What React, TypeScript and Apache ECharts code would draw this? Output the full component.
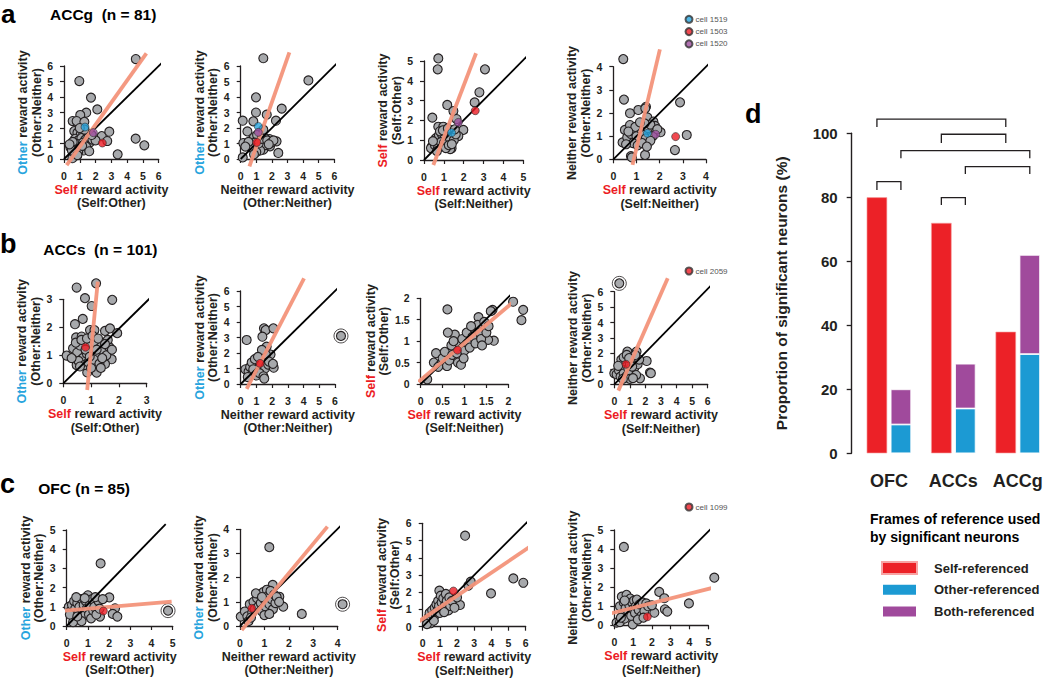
import React, { useEffect, useRef } from "react";
import * as echarts from "echarts";

const FONT = "'Liberation Sans', Arial, Helvetica, sans-serif";
const INK = "#231f20";
const GRAY = "#a7a9ac";
const FIT = "#f3937a";
const RED = "#ec1c24";
const BLUE = "#27a4dd";
const PURPLE = "#9c4d9e";
const BAR_RED = "#ec2127";
const BAR_BLUE = "#1c9ad3";
const BAR_PURPLE = "#a04a9c";

// ---------- scatter data (x, y) ----------
const a1Points = [
  [4.55, 6.45], [0.97, 5.03], [1.71, 3.96], [2.11, 3.2], [1.41, 2.99], [1.03, 2.84], [0.55, 2.45], [0.8, 2.45], [1.29, 2.4],
  [0.65, 1.8], [2.39, 1.48], [2.87, 1.76], [2.74, 1.16], [1.65, 1.08], [3.4, 0.3], [4.54, 1.31], [5.09, 0.88], [0.53, 0.05],
  [0.85, 1.7], [1.05, 1.55], [1.2, 1.75], [1.5, 1.6], [0.7, 1.3], [0.9, 1.2], [1.1, 1.35], [1.35, 1.25], [1.55, 1.4],
  [0.45, 0.8], [0.6, 0.9], [0.75, 1.0], [0.95, 0.95], [1.2, 1.05], [0.4, 0.75], [0.55, 1.1], [0.8, 0.6], [1.0, 0.7],
  [1.25, 0.55], [1.4, 0.8], [0.65, 0.4], [0.9, 0.45], [1.15, 0.85], [1.6, 0.5], [0.5, 0.55], [1.8, 1.25], [2.0, 1.2],
  [1.3, 1.9], [1.0, 2.0], [0.35, 0.95], [1.75, 1.55], [0.85, 0.25],
];
const a2Points = [
  [1.45, 6.5], [4.34, 5.07], [0.98, 3.98], [0.98, 3.0], [2.63, 3.25], [1.67, 2.86], [0.13, 2.47], [0.81, 2.43], [2.26, 2.47],
  [0.43, 1.78], [0.17, 1.03], [0.13, 0.1], [1.84, 1.29], [2.3, 1.14], [1.88, 0.82], [2.41, 0.39], [1.45, 0.6],
  [0.7, 1.2], [0.85, 1.4], [0.95, 0.85], [1.1, 0.75], [1.2, 1.25], [1.3, 0.95], [1.4, 1.5], [1.5, 1.1], [1.6, 0.9],
  [0.6, 0.9], [0.75, 0.7], [1.05, 1.55], [1.25, 0.55], [1.55, 1.35], [0.9, 1.05], [1.15, 1.0], [1.35, 1.3], [1.7, 1.2],
  [1.95, 1.05], [2.1, 1.2], [0.5, 1.1], [1.0, 0.45], [1.8, 0.95], [1.45, 1.9], [0.3, 0.8], [0.85, 0.3],
];
const a3Points = [
  [0.72, 5.13], [0.69, 4.58], [3.07, 4.58], [2.79, 3.42], [2.55, 2.91], [1.17, 2.78], [1.48, 2.47], [0.42, 2.14], [1.64, 2.07],
  [1.98, 1.52], [1.73, 1.21], [0.72, 1.68], [0.97, 1.68], [0.39, 0.67], [0.35, 0.6], [1.39, 0.59], [1.32, 0.55],
  [0.6, 1.1], [0.75, 1.25], [0.9, 1.3], [1.05, 1.2], [1.2, 1.35], [0.55, 0.75], [0.7, 0.6], [0.85, 0.9], [1.0, 0.85],
  [1.15, 0.95], [1.3, 1.1], [1.5, 1.0], [0.45, 0.95], [0.8, 1.45], [1.1, 0.6], [1.25, 0.75], [0.95, 1.5], [1.4, 0.8],
  [1.6, 1.3], [0.65, 0.45], [1.2, 1.6], [1.55, 1.55],
];
const a4Points = [
  [0.43, 4.33], [0.46, 2.58], [2.88, 2.46], [3.17, 1.05], [2.66, 0.4], [2.04, 1.17], [0.72, 1.99], [1.08, 2.13], [1.41, 2.27],
  [1.38, 2.2], [1.47, 1.81], [1.37, 0.19], [0.76, 0.14], [0.8, 0.08], [0.4, 0.73], [0.5, 1.27], [0.72, 1.48], [1.73, 1.63],
  [1.8, 1.44], [0.6, 0.95], [0.75, 1.1], [0.9, 1.2], [1.0, 1.0], [1.1, 0.85], [1.2, 1.3], [1.3, 1.05], [1.4, 0.9],
  [1.5, 1.35], [1.6, 1.5], [0.85, 0.7], [1.05, 0.6], [1.25, 0.7], [1.35, 1.55], [0.95, 1.4], [0.65, 1.2], [1.15, 1.6],
  [1.7, 1.0], [1.6, 0.8], [0.55, 0.65], [1.9, 1.3], [1.45, 0.55],
];
const b1Points = [
  [1.18, 3.57], [0.48, 3.42], [0.78, 3.04], [1.76, 2.98], [1.02, 2.76], [0.7, 2.3], [0.42, 2.11], [0.96, 1.9], [1.12, 1.9],
  [1.5, 1.87], [1.68, 1.96], [1.94, 1.79], [0.12, 0.99], [0.46, 1.64], [0.66, 1.67], [1.2, 0.38], [0.86, 0.39], [1.74, 0.86],
  [1.5, 0.69], [0.48, 0.65], [0.35, 1.25], [0.5, 1.1], [0.6, 1.35], [0.7, 0.9], [0.85, 1.05], [0.95, 1.3], [1.05, 1.15],
  [1.15, 1.45], [1.25, 1.0], [1.35, 1.3], [1.45, 1.15], [1.55, 1.0], [1.65, 1.3], [0.55, 0.8], [0.75, 0.65], [0.9, 0.75],
  [1.0, 0.55], [1.1, 0.85], [1.3, 0.7], [1.4, 0.9], [0.45, 1.45], [0.65, 1.55], [0.85, 1.6], [1.05, 1.7], [1.25, 1.6],
  [1.6, 1.55], [1.75, 1.2], [0.3, 0.9], [1.2, 1.2], [0.8, 1.2], [0.6, 0.6], [1.5, 1.4], [1.35, 0.55], [0.95, 0.95],
];
const b2Points = [
  [1.48, 3.59], [1.59, 3.48], [1.38, 3.05], [0.38, 2.84], [2.08, 3.59], [1.65, 2.41],
  [0.3, 0.95], [0.5, 0.8], [0.6, 1.1], [0.75, 0.7], [0.85, 1.05], [0.95, 1.25], [1.05, 0.9], [1.15, 1.5], [1.3, 1.05],
  [1.4, 1.3], [1.55, 1.0], [1.65, 1.6], [1.75, 1.25], [1.9, 1.9], [2.1, 1.05], [0.7, 1.4], [0.9, 1.6], [1.0, 0.55],
  [1.2, 0.7], [1.45, 0.5], [1.6, 1.9], [1.35, 2.2], [0.45, 0.45], [1.8, 1.45], [1.1, 1.75], [2.05, 1.3], [1.5, 0.35],
  [0.8, 0.95],
];
const b3Points = [
  [0.61, 1.74], [2.11, 1.92], [2.34, 1.73], [2.3, 1.49], [1.64, 1.73], [0.15, 0.11], [1.67, 1.01], [1.54, 1.03], [1.32, 1.56],
  [1.43, 1.3], [0.3, 0.5], [0.35, 0.72], [0.45, 0.45], [0.5, 0.6], [0.55, 0.75], [0.6, 0.42], [0.65, 0.55], [0.7, 0.9],
  [0.72, 0.68], [0.78, 1.15], [0.85, 0.5], [0.88, 0.95], [0.92, 0.45], [0.95, 1.05], [1.0, 0.78], [1.05, 1.2], [1.08, 0.95],
  [1.12, 0.85], [1.18, 1.1], [1.22, 1.3], [1.25, 0.95], [1.3, 1.38], [1.35, 1.2], [1.38, 1.05], [1.45, 1.45], [1.5, 1.2],
  [1.55, 1.35], [1.6, 1.7], [0.62, 1.2], [0.75, 1.0], [0.4, 0.4], [0.98, 0.6], [1.15, 1.35], [0.82, 0.72], [1.4, 0.9],
];
const b4Points = [
  [0.84, 2.12], [1.28, 1.79], [1.43, 2.12], [2.08, 1.51], [2.29, 0.76], [2.35, 0.72], [1.65, 0.39], [0.0, 0.71], [0.15, 0.65],
  [0.3, 0.9], [0.4, 0.5], [0.5, 1.1], [0.6, 0.7], [0.7, 1.5], [0.8, 0.55], [0.9, 1.0], [1.0, 1.3], [1.1, 0.8], [1.2, 1.6],
  [1.3, 1.1], [1.4, 0.6], [1.5, 1.3], [0.45, 1.6], [0.6, 1.75], [0.8, 1.9], [1.0, 0.35], [1.2, 0.4], [0.25, 1.2],
  [1.6, 1.6], [1.35, 1.9], [0.95, 1.7], [1.15, 1.15], [0.55, 0.35],
];
const c1Points = [
  [1.6, 3.26], [2.01, 1.49], [2.28, 0.92], [2.17, 0.63], [2.39, 0.49], [1.57, 0.49],
  [0.1, 1.0], [0.2, 0.8], [0.25, 1.1], [0.3, 0.5], [0.35, 1.3], [0.4, 0.9], [0.45, 0.35], [0.5, 1.2], [0.55, 0.7],
  [0.6, 1.0], [0.65, 0.4], [0.7, 1.4], [0.75, 0.8], [0.8, 1.1], [0.85, 0.55], [0.9, 1.3], [0.95, 0.9], [1.0, 1.6],
  [1.05, 0.6], [1.1, 1.1], [1.15, 0.4], [1.2, 1.4], [1.25, 0.8], [1.3, 1.0], [1.4, 0.6], [1.5, 1.3], [1.55, 0.9],
  [0.3, 0.2], [0.15, 0.6], [0.7, 0.25], [1.35, 1.5], [0.45, 1.5], [1.7, 1.4], [0.5, 0.5], [0.85, 1.45],
];
const c2Points = [
  [1.2, 3.26], [2.53, 0.5], [1.77, 0.8], [1.61, 1.21], [1.34, 1.7], [0.03, 0.39],
  [0.2, 0.6], [0.3, 0.4], [0.4, 0.9], [0.5, 0.55], [0.55, 1.0], [0.6, 0.7], [0.7, 1.15], [0.75, 0.8], [0.8, 1.3],
  [0.85, 0.95], [0.9, 0.6], [0.95, 1.4], [1.0, 1.1], [1.05, 0.8], [1.1, 1.5], [1.15, 1.25], [1.2, 0.9], [1.25, 1.45],
  [1.3, 1.1], [1.35, 0.7], [1.4, 1.3], [1.45, 0.95], [1.5, 1.2], [0.65, 1.35], [0.35, 0.2], [1.0, 0.45], [1.2, 0.5],
  [0.45, 0.35], [1.6, 1.0], [0.9, 1.2],
];
const c3Points = [
  [2.47, 5.28], [5.28, 2.8], [5.86, 2.55], [3.98, 1.93], [2.66, 2.38], [2.8, 2.61], [2.17, 1.26], [0.97, 2.09],
  [0.3, 0.3], [0.35, 0.55], [0.4, 0.8], [0.45, 0.2], [0.5, 0.5], [0.55, 0.95], [0.6, 0.65], [0.7, 1.1], [0.75, 0.7],
  [0.8, 1.3], [0.85, 0.9], [0.9, 1.5], [0.95, 1.2], [1.0, 0.8], [1.05, 1.8], [1.1, 1.4], [1.15, 1.0], [1.2, 1.65],
  [1.3, 1.25], [1.35, 1.9], [1.4, 1.5], [1.5, 0.95], [1.55, 1.7], [1.6, 1.2], [1.7, 1.5], [1.85, 1.1], [2.0, 1.7],
  [0.25, 0.15], [1.25, 0.85], [0.65, 0.35],
];
const c4Points = [
  [0.51, 4.11], [5.32, 2.5], [3.97, 1.15], [2.39, 1.75], [2.66, 1.42], [2.69, 0.84], [2.82, 0.72], [2.13, 0.66], [0.98, 0.05],
  [0.12, 0.14], [0.3, 0.17], [0.3, 1.0], [0.4, 1.5], [0.45, 0.6], [0.5, 1.2], [0.55, 0.35], [0.6, 0.9], [0.65, 1.6],
  [0.7, 1.25], [0.75, 0.7], [0.8, 1.05], [0.85, 1.4], [0.9, 0.5], [0.95, 1.2], [1.0, 0.85], [1.05, 1.3], [1.1, 0.65],
  [1.15, 1.0], [1.2, 1.35], [1.3, 0.8], [1.35, 1.1], [1.45, 0.5], [1.5, 1.2], [1.6, 0.75], [1.7, 1.15], [1.8, 1.0],
  [2.0, 1.05], [0.35, 0.4], [1.25, 0.3], [0.55, 1.3], [1.55, 0.4],
];

// circled outliers
const b2Outliers = [[6.38, 3.1]];
const b4Outliers = [[0.32, 6.54]];
const c1Outliers = [[4.78, 0.8]];
const c2Outliers = [[4.2, 0.9]];

// identity (unity) lines and regression fits, as end points
const a1Diag = [[0, 0], [6.45, 6.45]];
const a2Diag = [[0, 0], [6.55, 6.55]];
const a3Diag = [[0, 0], [5.25, 5.3]];
const a4Diag = [[0, 0], [4.46, 4.46]];
const b1Diag = [[0, 0], [3.64, 3.55]];
const b2Diag = [[0, 0], [6.74, 6.74]];
const b3Diag = [[0, 0], [2.44, 2.47]];
const b4Diag = [[0, 0], [6.6, 6.8]];
const c1Diag = [[0, 0], [4.67, 5.3]];
const c2Diag = [[0, 0], [4.37, 4.39]];
const c3Diag = [[0, 0], [6.16, 6.15]];
const c4Diag = [[0, 0], [5.57, 5.49]];

const a1Fit = [[0.17, -0.4], [5.22, 6.82]];
const a2Fit = [[0.56, -0.47], [3.12, 6.88]];
const a3Fit = [[0.47, -0.25], [2.62, 5.39]];
const a4Fit = [[0.83, -0.24], [2.01, 4.75]];
const b1Fit = [[0.86, -0.24], [1.24, 3.63]];
const b2Fit = [[0.38, -0.32], [4.03, 6.82]];
const b3Fit = [[-0.05, 0.05], [2.46, 2.21]];
const b4Fit = [[0.26, -0.41], [3.43, 6.87]];
const c1Fit = [[-0.08, 0.8], [4.95, 1.27]];
const c2Fit = [[0.07, -0.17], [3.58, 4.11]];
const c3Fit = [[-0.25, 0.29], [6.19, 4.6]];
const c4Fit = [[-0.32, 0.59], [5.62, 2.06]];

// highlighted example cells, one point per sub-plot of the row
const aCell1519 = [[1.33, 2.06], [1.13, 2.1], [1.39, 1.38], [1.47, 1.12]];
const aCell1503 = [[2.43, 1.03], [1.03, 1.07], [2.58, 2.49], [2.69, 0.98]];
const aCell1520 = [[1.86, 1.7], [1.13, 1.72], [1.73, 1.9], [1.83, 1.08]];
const bCell2059 = [[0.8, 1.29], [1.23, 1.33], [0.84, 0.79], [0.75, 1.3]];
const cCell1099 = [[1.73, 0.78], [0.48, 0.73], [1.79, 2.07], [1.76, 0.45]];

// ---------- bar data (panel d) ----------
const regions = ["OFC", "ACCs", "ACCg"];
const selfPct = [80, 72, 38];
const otherPct = [9, 14, 31];
const bothPct = [11, 14, 31];
// significance brackets: [catA, sideA, catB, sideB, top value, leg end value]
const brackets = [
  [0, -1, 2, -1, 104.4, 102.0],
  [1, -1, 2, -1, 99.7, 97.0],
  [0, 1, 2, 1, 94.6, 92.2],
  [1, 1, 2, 1, 89.6, 87.3],
  [0, -1, 0, 1, 84.9, 82.3],
  [1, -1, 1, 1, 79.9, 77.6],
];

// ---------- axis titles ----------
const X_SELF_OTHER = "{s|Self} reward activity\n(Self:Other)";
const X_NEITHER = "Neither reward activity\n(Other:Neither)";
const X_SELF_NEITHER = "{s|Self} reward activity\n(Self:Neither)";
const Y_OTHER = "{o|Other} reward activity\n(Other:Neither)";
const Y_SELF = "{s|Self} reward activity\n(Self:Other)";
const Y_NEITHER = "Neither reward activity\n(Other:Neither)";

const BAR_W = 20.5;
const BAR_GAP_PX = 3.5;

function buildOption() {
  const rowCells = [
    [
      { name: "cell 1519", color: BLUE, data: aCell1519 },
      { name: "cell 1503", color: RED, data: aCell1503 },
      { name: "cell 1520", color: PURPLE, data: aCell1520 },
    ],
    [{ name: "cell 2059", color: RED, data: bCell2059 }],
    [{ name: "cell 1099", color: RED, data: cCell1099 }],
  ];
  const panels = [
    { row: 0, col: 0, left: 64, top: 66, width: 94.7, height: 93, xMax: 6, yMax: 6, step: 1, xName: X_SELF_OTHER, yName: Y_OTHER, pts: a1Points, diag: a1Diag, fit: a1Fit, out: [] as number[][] },
    { row: 0, col: 1, left: 240.7, top: 66, width: 93.6, height: 93, xMax: 6, yMax: 6, step: 1, xName: X_NEITHER, yName: Y_OTHER, pts: a2Points, diag: a2Diag, fit: a2Fit, out: [] },
    { row: 0, col: 2, left: 424, top: 61, width: 99.3, height: 99, xMax: 5, yMax: 5, step: 1, xName: X_SELF_NEITHER, yName: Y_SELF, pts: a3Points, diag: a3Diag, fit: a3Fit, out: [] },
    { row: 0, col: 3, left: 613.3, top: 66.7, width: 92.7, height: 92.6, xMax: 4, yMax: 4, step: 1, xName: X_SELF_NEITHER, yName: Y_NEITHER, pts: a4Points, diag: a4Diag, fit: a4Fit, out: [] },
    { row: 1, col: 0, left: 63.3, top: 299.3, width: 83.4, height: 84, xMax: 3, yMax: 3, step: 1, xName: X_SELF_OTHER, yName: Y_OTHER, pts: b1Points, diag: b1Diag, fit: b1Fit, out: [] },
    { row: 1, col: 1, left: 240.7, top: 291, width: 94.3, height: 93, xMax: 6, yMax: 6, step: 1, xName: X_NEITHER, yName: Y_OTHER, pts: b2Points, diag: b2Diag, fit: b2Fit, out: b2Outliers },
    { row: 1, col: 2, left: 420.7, top: 298.3, width: 87.6, height: 85.7, xMax: 2, yMax: 2, step: 0.5, xName: X_SELF_NEITHER, yName: Y_SELF, pts: b3Points, diag: b3Diag, fit: b3Fit, out: [] },
    { row: 1, col: 3, left: 614.3, top: 291.7, width: 93.4, height: 92.6, xMax: 6, yMax: 6, step: 1, xName: X_SELF_NEITHER, yName: Y_NEITHER, pts: b4Points, diag: b4Diag, fit: b4Fit, out: b4Outliers },
    { row: 2, col: 0, left: 66.7, top: 530, width: 106, height: 96, xMax: 5, yMax: 5, step: 1, xName: X_SELF_OTHER, yName: Y_OTHER, pts: c1Points, diag: c1Diag, fit: c1Fit, out: c1Outliers },
    { row: 2, col: 1, left: 240, top: 529.3, width: 97.7, height: 96.7, xMax: 4, yMax: 4, step: 1, xName: X_NEITHER, yName: Y_OTHER, pts: c2Points, diag: c2Diag, fit: c2Fit, out: c2Outliers },
    { row: 2, col: 2, left: 422.7, top: 523.3, width: 103, height: 103.4, xMax: 6, yMax: 6, step: 1, xName: X_SELF_NEITHER, yName: Y_SELF, pts: c3Points, diag: c3Diag, fit: c3Fit, out: [] },
    { row: 2, col: 3, left: 614.3, top: 530, width: 94, height: 95.3, xMax: 5, yMax: 5, step: 1, xName: X_SELF_NEITHER, yName: Y_NEITHER, pts: c4Points, diag: c4Diag, fit: c4Fit, out: [] },
  ];

  const nameFont = { fontSize: 12.5, fontWeight: "bold", fontFamily: FONT, lineHeight: 13.5 };
  const nameStyle = {
    ...nameFont,
    color: INK,
    rich: { s: { ...nameFont, color: RED }, o: { ...nameFont, color: BLUE } },
  };
  const axisLine = { show: true, lineStyle: { color: INK, width: 1.3 } };
  const axisTick = { show: true, length: 4, lineStyle: { color: INK, width: 1.2 } };
  const tickLabel = { fontSize: 10.5, fontWeight: "bold", fontFamily: FONT, color: INK };

  const grid: any[] = [];
  const xAxis: any[] = [];
  const yAxis: any[] = [];
  const series: any[] = [];

  panels.forEach((p, i) => {
    grid.push({ left: p.left, top: p.top, width: p.width, height: p.height });
    xAxis.push({
      type: "value", gridIndex: i, min: 0, max: p.xMax, interval: p.step, offset: 6,
      axisLine, axisTick, splitLine: { show: false },
      axisLabel: { ...tickLabel, margin: 5 },
      name: p.xName, nameLocation: "middle", nameGap: 18, nameTextStyle: nameStyle,
    });
    yAxis.push({
      type: "value", gridIndex: i, min: 0, max: p.yMax, interval: p.step, offset: 4,
      axisLine, axisTick, splitLine: { show: false },
      axisLabel: { ...tickLabel, margin: 7 },
      name: p.yName, nameLocation: "middle", nameRotate: 90, nameGap: 16, nameTextStyle: nameStyle,
    });
    if (p.out.length) {
      series.push({
        type: "scatter", name: `ring ${i}`, xAxisIndex: i, yAxisIndex: i, data: p.out, clip: false, z: 1,
        symbol: "circle", symbolSize: 14, silent: true,
        itemStyle: { color: "#ffffff", borderColor: INK, borderWidth: 1 },
      });
    }
    series.push({
      type: "scatter", name: `neurons ${i}`, xAxisIndex: i, yAxisIndex: i, data: [...p.pts, ...p.out], clip: false, z: 2,
      symbol: "circle", symbolSize: 9, silent: true,
      itemStyle: { color: GRAY, borderColor: INK, borderWidth: 1.1, opacity: 1 },
    });
    series.push({
      type: "line", name: `unity ${i}`, xAxisIndex: i, yAxisIndex: i, data: p.diag, clip: false, z: 3,
      symbol: "none", silent: true, lineStyle: { color: "#000", width: 1.8 },
    });
    series.push({
      type: "line", name: `fit ${i}`, xAxisIndex: i, yAxisIndex: i, data: p.fit, clip: false, z: 4,
      symbol: "none", silent: true, lineStyle: { color: FIT, width: 3.8, opacity: 0.95 },
    });
    rowCells[p.row].forEach((c) => {
      series.push({
        type: "scatter", name: c.name, xAxisIndex: i, yAxisIndex: i, data: [c.data[p.col]], clip: false, z: 5,
        symbol: "circle", symbolSize: 8, silent: true,
        itemStyle: { color: c.color, borderColor: "#333", borderWidth: 0.8 },
      });
    });
  });

  // ---------- panel d ----------
  const bi = panels.length;
  grid.push({ left: 856.7, top: 133.3, width: 197.7, height: 320 });
  xAxis.push({
    type: "category", gridIndex: bi, data: regions,
    axisLine: { show: false }, axisTick: { show: false },
    axisLabel: { interval: 0, hideOverlap: false, fontSize: 18, fontWeight: "bold", fontFamily: FONT, color: INK, margin: 19 },
  });
  yAxis.push({
    type: "value", gridIndex: bi, min: 0, max: 100, interval: 20, offset: 5,
    axisLine: { show: true, lineStyle: { color: INK, width: 1.4 } },
    axisTick: { show: true, length: 5, lineStyle: { color: INK, width: 1.3 } },
    splitLine: { show: false },
    axisLabel: { fontSize: 15, fontWeight: "bold", fontFamily: FONT, color: INK, margin: 14 },
    name: "Proportion of significant neurons (%)", nameLocation: "middle", nameRotate: 90, nameGap: 62,
    nameTextStyle: { fontSize: 15.5, fontWeight: "bold", fontFamily: FONT, color: INK },
  });
  const barCommon = { type: "bar", xAxisIndex: bi, yAxisIndex: bi, barWidth: BAR_W, barGap: `${(BAR_GAP_PX / BAR_W) * 100}%`, silent: true };
  series.push({ ...barCommon, name: "Self-referenced", stack: "self", data: selfPct, itemStyle: { color: BAR_RED, borderColor: "#f7a3a3", borderWidth: 0.6 } });
  series.push({ ...barCommon, name: "Other-referenced", stack: "other", data: otherPct, itemStyle: { color: BAR_BLUE, borderColor: "#ffffff", borderWidth: 0.8 } });
  series.push({ ...barCommon, name: "Both-referenced", stack: "other", data: bothPct, itemStyle: { color: BAR_PURPLE, borderColor: "#ffffff", borderWidth: 0.8 } });
  series.push({
    type: "custom", name: "brackets", xAxisIndex: bi, yAxisIndex: bi, data: brackets, clip: false, silent: true, z: 6,
    encode: { x: 0, y: 4 },
    renderItem: (_params: any, api: any) => {
      const off = (BAR_W + BAR_GAP_PX) / 2;
      const pA = api.coord([api.value(0), api.value(4)]);
      const pB = api.coord([api.value(2), api.value(4)]);
      const pL = api.coord([api.value(0), api.value(5)]);
      const xA = pA[0] + api.value(1) * off;
      const xB = pB[0] + api.value(3) * off;
      return {
        type: "polyline",
        shape: { points: [[xA, pL[1]], [xA, pA[1]], [xB, pA[1]], [xB, pL[1]]] },
        style: { stroke: INK, lineWidth: 1.3, fill: "none" },
      };
    },
  });

  const cellLegend = (names: string[], top: number) => ({
    data: names, orient: "vertical", left: 679.5, top, itemWidth: 7, itemHeight: 7, itemGap: 3.3,
    icon: "circle", selectedMode: false,
    textStyle: { fontSize: 8, color: "#555", fontFamily: FONT, lineHeight: 7, padding: [0, 0, 0, -2] },
  });

  const txt = (text: string, x: number, y: number, size: number, lh?: number) => ({
    type: "text", x, y, silent: true,
    style: {
      text, fontSize: size, fontWeight: "bold", fontFamily: FONT, fill: "#000",
      verticalAlign: "middle", align: "left", lineHeight: lh ?? size * 1.1,
    },
  });

  return {
    animation: false,
    backgroundColor: "#ffffff",
    grid, xAxis, yAxis, series,
    legend: [
      cellLegend(["cell 1519", "cell 1503", "cell 1520"], 9.8),
      cellLegend(["cell 2059"], 261.5),
      cellLegend(["cell 1099"], 497.5),
      {
        data: ["Self-referenced", "Other-referenced", "Both-referenced"], orient: "vertical", left: 876, top: 556,
        itemWidth: 35, itemHeight: 12, itemGap: 7.8, icon: "rect", selectedMode: false,
        textStyle: { fontSize: 13, fontWeight: "bold", color: INK, fontFamily: FONT, lineHeight: 12, padding: [0, 0, 0, 12] },
      },
    ],
    graphic: [
      txt("a", 1, 14, 26, 20),
      txt("ACCg  (n = 81)", 50, 14.9, 15.5),
      txt("b", 0, 243.6, 27, 20),
      txt("ACCs  (n = 101)", 43.3, 249.6, 15.5),
      txt("c", 0, 484, 27, 20),
      txt("OFC (n = 85)", 38.3, 488.6, 15.5),
      txt("d", 745, 113.9, 27, 20),
      txt("Frames of reference used", 870, 519.1, 14),
      txt("by significant neurons", 870, 536.8, 14),
    ],
  };
}

export default function App() {
  const ref = useRef<HTMLDivElement>(null);
  useEffect(() => {
    if (!ref.current) return;
    const chart = echarts.init(ref.current, null, { renderer: "svg" });
    chart.setOption(buildOption() as any);
    return () => chart.dispose();
  }, []);
  return (
    <div
      ref={ref}
      style={{ position: "absolute", left: 0, top: 0, width: 1050, height: 679, background: "#fff" }}
    />
  );
}
